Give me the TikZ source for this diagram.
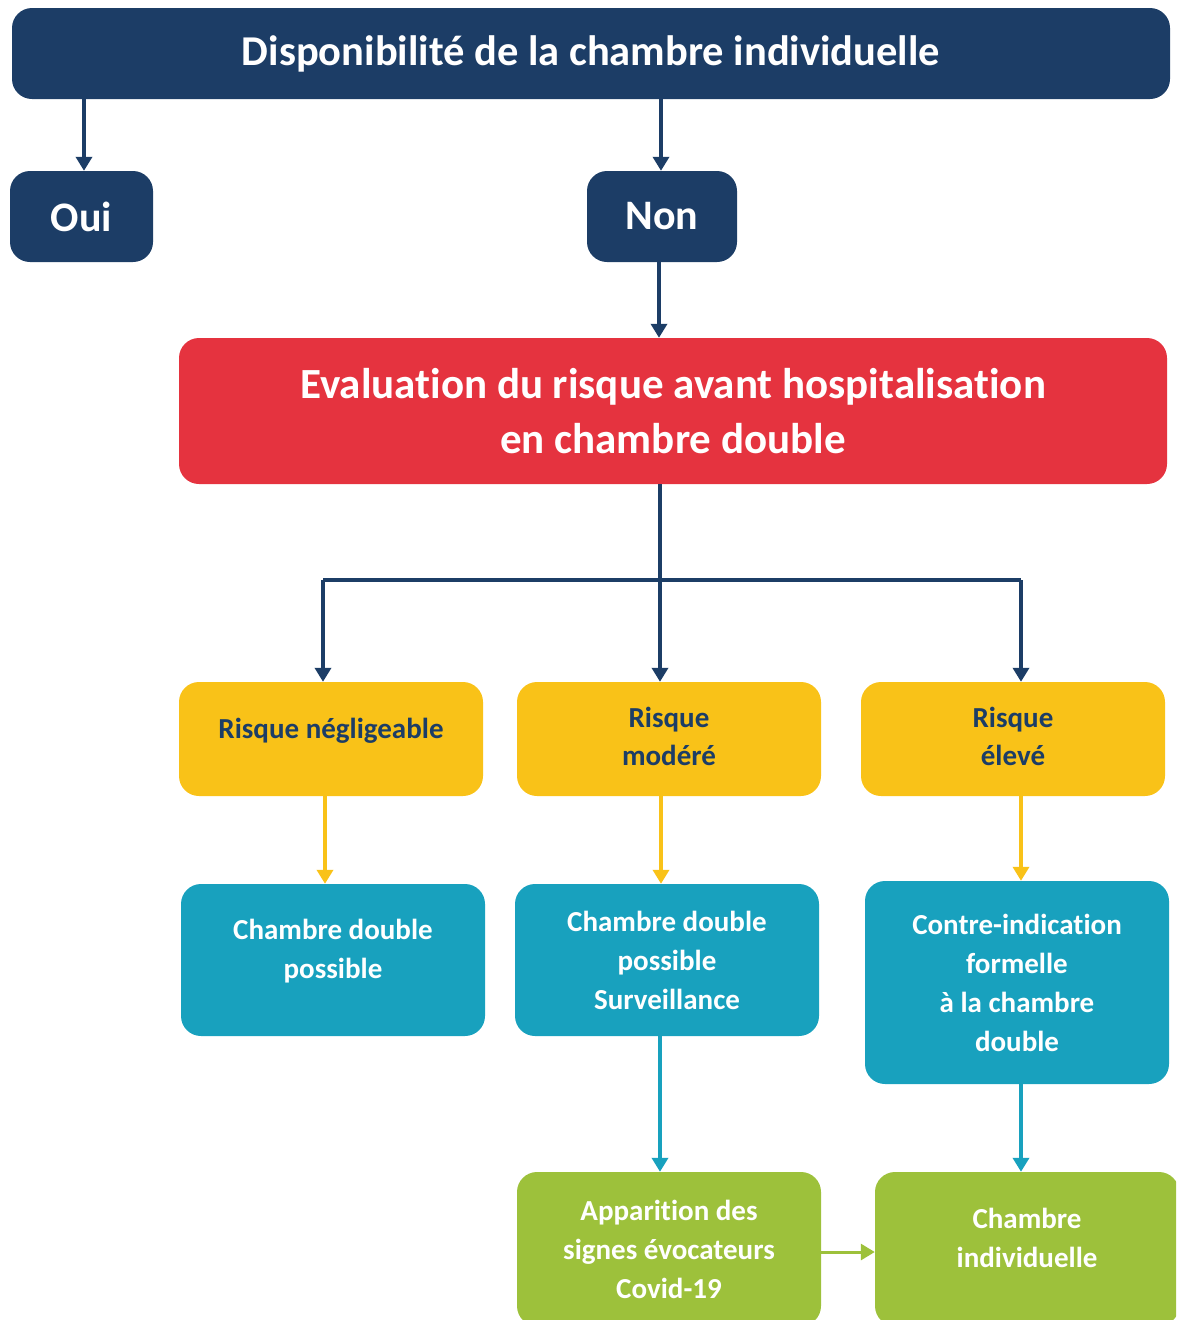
\documentclass[tikz,border=0pt]{standalone}
\usepackage{fontspec}
\setmainfont[Ligatures=NoCommon]{Carlito}
\usetikzlibrary{arrows.meta}
\definecolor{navy}{HTML}{1C3D66}
\definecolor{redb}{HTML}{E5333F}
\definecolor{yel}{HTML}{F9C218}
\definecolor{teal}{HTML}{18A1BE}
\definecolor{grn}{HTML}{9DC13B}
\tikzset{
  box/.style={rectangle, rounded corners=20pt, draw=none, align=center, font=\bfseries, inner sep=0pt},
  navybox/.style={box, fill=navy, text=white},
  redbox/.style={box, fill=redb, text=white, font=\bfseries\fontsize{43}{55}\selectfont},
  yelbox/.style={box, fill=yel, text=navy, minimum width=304pt, minimum height=114pt, font=\bfseries\fontsize{29}{38}\selectfont},
  tealbox/.style={box, fill=teal, text=white, minimum width=304pt, font=\bfseries\fontsize{29}{39}\selectfont},
  grnbox/.style={box, fill=grn, text=white, minimum width=304pt, minimum height=154pt, font=\bfseries\fontsize{29}{39}\selectfont},
  plaintext/.style={align=center, inner sep=0pt, text=white, font=\bfseries\fontsize{29}{39}\selectfont},
  yeltext/.style={align=center, inner sep=0pt, text=navy, font=\bfseries\fontsize{29}{38}\selectfont},
  arr/.style={line width=4pt, -{Triangle[width=16pt,length=14pt]}},
}
\begin{document}
\begin{tikzpicture}[x=1pt,y=-1pt]
\useasboundingbox (0,0) rectangle (1176,1320);
\begin{scope}
\clip (0,0) rectangle (1176,1320);
\node[navybox, minimum width=1158pt, minimum height=91pt, font=\bfseries\fontsize{42.5}{48}\selectfont] (title) at (591,53.5) {Disponibilité de la chambre individuelle};
\node[navybox, minimum width=143pt, minimum height=91pt, font=\bfseries\fontsize{42}{48}\selectfont] (oui) at (81.5,216.5) {Oui};
\node[navybox, minimum width=150pt, minimum height=91pt, font=\bfseries\fontsize{42}{48}\selectfont] (non) at (662,216.5) {Non};
\node[redbox, minimum width=988pt, minimum height=146pt] (eval) at (673,411) {Evaluation du risque avant hospitalisation\\en chambre double};

\node[yelbox] (y1) at (331,739) {};
\node[yeltext] (y1t) at (331,731) {Risque négligeable};
\node[yelbox] (y2) at (669,739) {};
\node[yeltext] (y2t) at (669,736) {Risque\\modéré};
\node[yelbox] (y3) at (1013,739) {};
\node[yeltext] (y3t) at (1013,736) {Risque\\élevé};

\node[tealbox, minimum height=152pt] (t1) at (333,960) {};
\node[plaintext] (t1t) at (333,951) {Chambre double\\possible};
\node[tealbox, minimum height=152pt] (t2) at (667,960) {Chambre double\\possible\\Surveillance};
\node[tealbox, minimum height=203pt] (t3) at (1017,982.5) {Contre-indication\\formelle\\à la chambre\\double};

\node[grnbox] (g1) at (669,1249) {Apparition des\\signes évocateurs\\Covid-19};
\node[grnbox] (g2) at (1027,1249) {};
\node[plaintext] (g2t) at (1027,1238) {Chambre\\individuelle};

\coordinate (ca) at (84,0);
\coordinate (cb) at (661,0);
\coordinate (cn) at (659,0);
\coordinate (split) at (660,580);
\coordinate (c1) at (323,580);
\coordinate (c3) at (1021,580);
\coordinate (d1) at (325,0);
\coordinate (d2) at (661,0);

\draw[arr, navy] (title.south -| ca) -- (oui.north -| ca);
\draw[arr, navy] (title.south -| cb) -- (non.north -| cb);
\draw[arr, navy] (non.south -| cn) -- (eval.north -| cn);
\draw[arr, navy] (eval.south -| split) -- (y2.north -| split);
\draw[line width=4pt, navy] (c1) -- (c3);
\draw[arr, navy] (c1) -- (y1.north -| c1);
\draw[arr, navy] (c3) -- (y3.north -| c3);

\draw[arr, yel, line width=3.5pt] (y1.south -| d1) -- (t1.north -| d1);
\draw[arr, yel, line width=3.5pt] (y2.south -| d2) -- (t2.north -| d2);
\draw[arr, yel, line width=3.5pt] (y3.south -| c3) -- (t3.north -| c3);

\draw[arr, teal, line width=3.5pt] (t2.south -| split) -- (g1.north -| split);
\draw[arr, teal, line width=3.5pt] (t3.south -| c3) -- (g2.north -| c3);

\draw[arr, grn, line width=3pt] ([yshift=-3pt]g1.east) -- ([yshift=-3pt]g2.west);
\end{scope}
\end{tikzpicture}
\end{document}
